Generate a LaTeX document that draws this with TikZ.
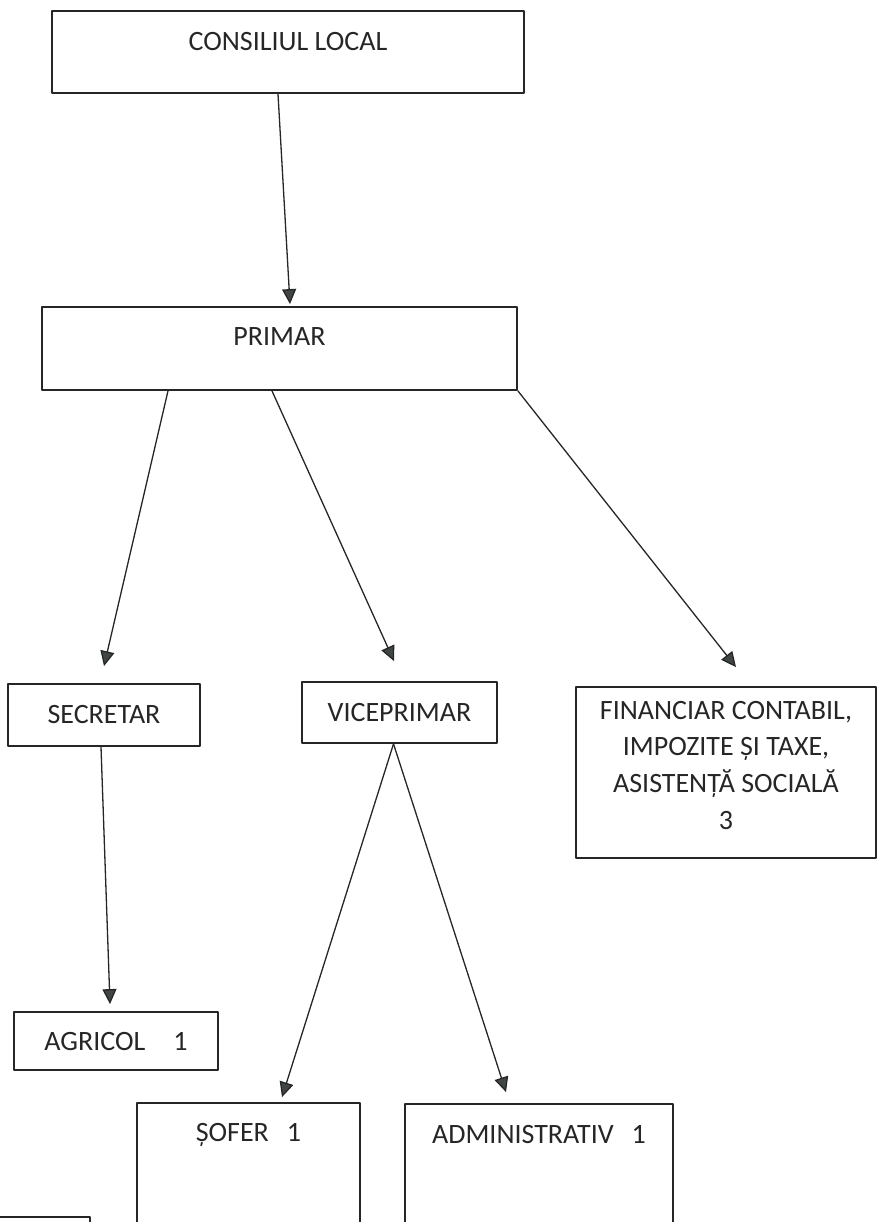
\documentclass[tikz,border=0pt]{standalone}
\usepackage{fontspec}
\setmainfont{Carlito}
\usepackage{tikz}
\usetikzlibrary{arrows.meta,positioning}
\definecolor{inkgray}{HTML}{262626}
\definecolor{tipgray}{HTML}{404646}

\tikzset{
    box/.style={draw=inkgray,line width=1.8pt,rectangle,inner sep=0pt,text=inkgray,align=center},
    txt/.style={inner sep=0pt,text=inkgray,text height=18pt,text depth=0pt,align=center},
    arr/.style={->,draw=inkgray,line width=1.3pt}
}

\begin{document}
\begin{tikzpicture}[x=1pt,y=-1pt,line cap=round,line join=round,
    >={Triangle[length=15pt,width=14pt,fill=tipgray]},
    font=\fontsize{28}{36.7}\selectfont]

        \useasboundingbox (0,0) rectangle (876,1222);

        % --- Boxes ---
        \node[box,minimum width=472pt,minimum height=82pt] (cons) at (288,52) {};
        \node[box,minimum width=475pt,minimum height=83pt] (primar) at (279.5,348.5) {};

        \node[box,minimum width=192pt,minimum height=62pt] (secretar) at (104,715) {SECRETAR};
        \node[box,minimum width=195pt,minimum height=61pt] (vice) at (399.5,712.5) {VICEPRIMAR};
        \node[box,minimum width=300pt,minimum height=171pt] (fin) at (726,772.5) {};

        \node[box,minimum width=204pt,minimum height=58pt] (agri) at (116,1041) {AGRICOL\hspace{28pt}1};
        \node[box,minimum width=223pt,minimum height=200pt] (sofer) at (248.5,1203) {};
        \node[box,minimum width=268pt,minimum height=200pt] (admin) at (539,1204) {};

        % box cut by the page edge
        \node[box,minimum width=110pt,minimum height=100pt] (extra) at (35,1267) {};

        % --- Texts ---
        \node[txt] (consT) at ([yshift=-31pt]cons.north) {CONSILIUL LOCAL};
        \node[txt] (primT) at ([yshift=-30pt]primar.north) {PRIMAR};
        \node[inner sep=0pt,text=inkgray,align=center] (finT) at ([yshift=-79pt]fin.north)
            {FINANCIAR CONTABIL,\\IMPOZITE ȘI TAXE,\\ASISTENȚĂ SOCIALĂ\\3};
        \node[txt] (soferT) at ([yshift=-30pt]sofer.north) {ȘOFER\hspace{18pt}1};
        \node[txt] (adminT) at ([yshift=-31pt]admin.north) {ADMINISTRATIV\hspace{18pt}1};

        % --- Arrows ---
        \draw[arr] ([xshift=-10pt]cons.south) -- ([xshift=10.5pt,yshift=2pt]primar.north);

        \draw[arr] ([xshift=-111.5pt]primar.south) -- ([yshift=17pt]secretar.north);
        \draw[arr] ([xshift=-7.5pt]primar.south) -- ([xshift=-5.5pt,yshift=20pt]vice.north);
        \draw[arr] (primar.south east) -- ([xshift=10pt,yshift=19pt]fin.north);

        \draw[arr] ([xshift=-3pt]secretar.south) -- ([xshift=-6pt,yshift=7pt]agri.north);

        \draw[arr] ([xshift=-6pt]vice.south) -- ([xshift=33.5pt,yshift=5pt]sofer.north);
        \draw[arr] ([xshift=-6pt]vice.south) -- ([xshift=-33pt,yshift=11pt]admin.north);

\end{tikzpicture}
\end{document}
